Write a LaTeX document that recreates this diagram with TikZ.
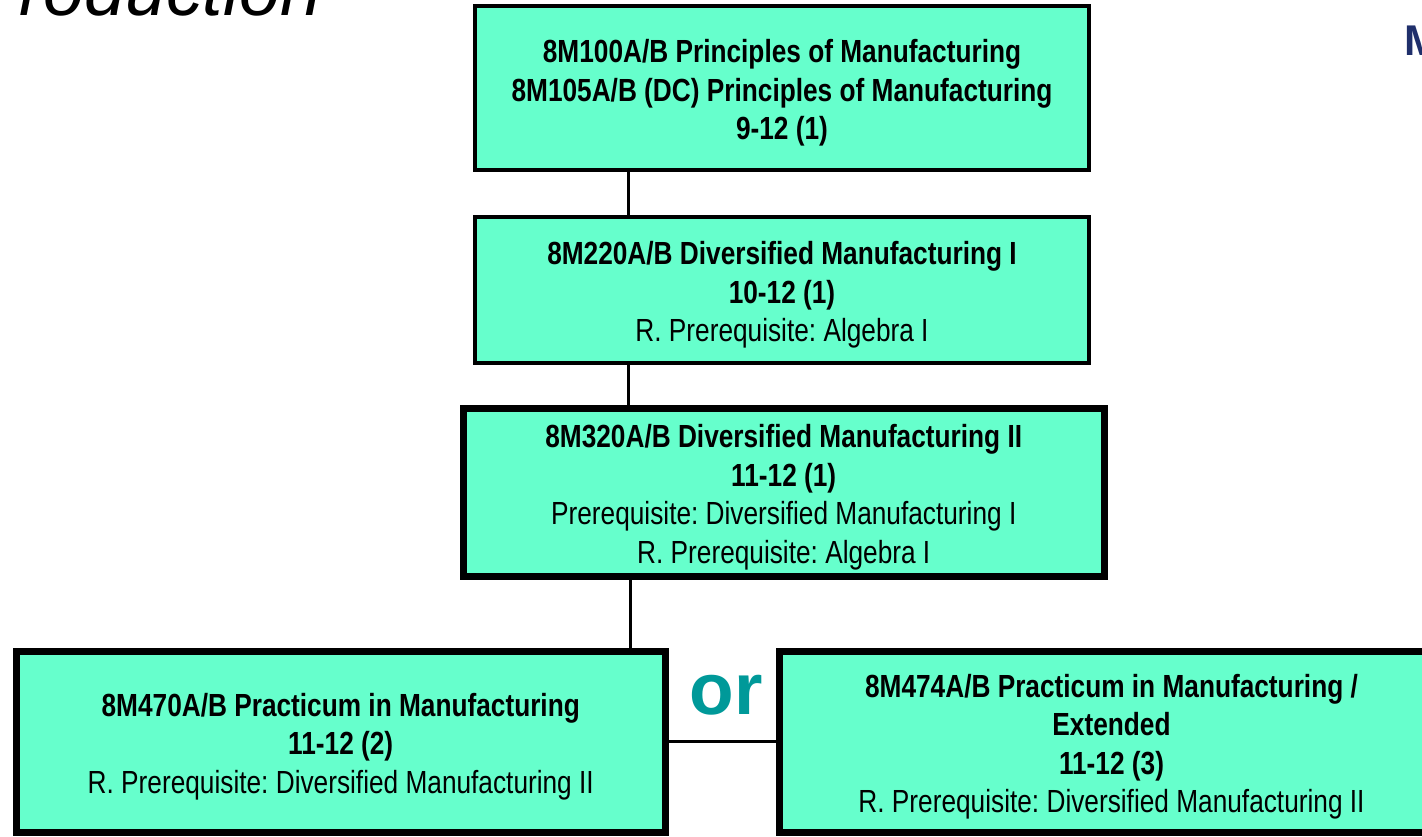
\documentclass[tikz,border=0pt]{standalone}
\usepackage{fontspec}
\setmainfont{Liberation Sans}[FakeStretch=0.82]
\newfontfamily\wideface{Liberation Sans}
\usepackage{tikz}
\definecolor{boxfill}{HTML}{66FFCC}
\definecolor{orteal}{HTML}{009999}
\definecolor{navy}{HTML}{1F2F6B}
\frenchspacing
\newcommand{\toppad}{\rule{0pt}{16.5pt}}

\begin{document}
\begin{tikzpicture}[x=0.5pt,y=-0.5pt]
\tikzstyle{course}=[draw,fill=boxfill,line width=2pt,align=center,inner sep=0,font=\fontsize{16}{19.25}\selectfont]
\tikzstyle{core}=[course,line width=3.5pt]
\tikzstyle{link}=[line width=1.5pt]
\useasboundingbox (0,0) rectangle (1422,836);
\node[font=\wideface\itshape\fontsize{36.7}{40}\selectfont,anchor=base west,inner sep=0] (title) at (19,15) {roduction};
\node[font=\wideface\bfseries\fontsize{21.5}{24}\selectfont,text=navy,anchor=base west,inner sep=0] (logo) at (1404,55) {M};
\node[course,minimum width=307pt,minimum height=82pt] (b1) at (782,88)
  {\toppad\textbf{8M100A/B Principles of Manufacturing}\\\textbf{8M105A/B (DC) Principles of Manufacturing}\\\textbf{9-12 (1)}};
\node[course,minimum width=307pt,minimum height=73pt] (b2) at (782,290)
  {\toppad\textbf{8M220A/B Diversified Manufacturing I}\\\textbf{10-12 (1)}\\R. Prerequisite: Algebra I};
\node[core,minimum width=320.25pt,minimum height=83.75pt] (b3) at (783.75,492.25)
  {\toppad\textbf{8M320A/B Diversified Manufacturing II}\\\textbf{11-12 (1)}\\Prerequisite: Diversified Manufacturing I\\R. Prerequisite: Algebra I};
\node[core,minimum width=324.75pt,minimum height=90.75pt] (b4) at (340.75,741.75)
  {\toppad\textbf{8M470A/B Practicum in Manufacturing}\\\textbf{11-12 (2)}\\R. Prerequisite: Diversified Manufacturing II};
\node[core,minimum width=331.75pt,minimum height=90.75pt] (b5) at (1111.5,741.75)
  {\toppad\textbf{8M474A/B Practicum in Manufacturing /}\\\textbf{Extended}\\\textbf{11-12 (3)}\\R. Prerequisite: Diversified Manufacturing II};
\node[font=\wideface\bfseries\fontsize{36.5}{40}\selectfont,text=orteal,anchor=base,inner sep=0] (or) at (726,714) {or};
\draw[link] ([xshift=-77pt]b1.south) -- ([xshift=-77pt]b2.north);
\draw[link] ([xshift=-77pt]b2.south) -- ([xshift=-77pt]b2.south |- b3.north);
\draw[link] ([xshift=-76.6pt]b3.south) -- ([xshift=-76.6pt]b3.south |- b4.north);
\draw[link] (b4.east) -- (b5.west);
\end{tikzpicture}
\end{document}
